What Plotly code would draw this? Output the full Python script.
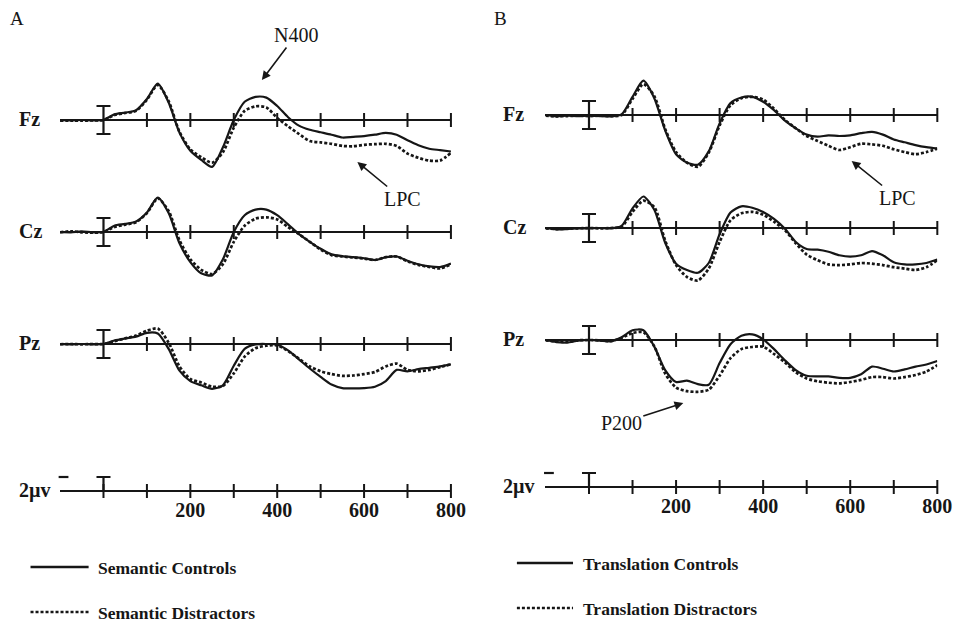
import plotly.graph_objects as go

# ---------------- data (µV, negative plotted up) ----------------
time_ms = [-100, -75, -50, -25, 0, 25, 50, 75, 100, 125, 150, 175, 200, 225, 250, 275, 300,
           325, 350, 375, 400, 425, 450, 475, 500, 525, 550, 575, 600, 625, 650, 675, 700,
           725, 750, 775, 800]

a_fz_controls = [0, 0.05, 0, 0.05, 0, -0.8, -1.05, -1.4, -3.0, -5.2, -2.5, 1.8, 4.4, 5.7, 6.7, 3.9, 0,
                 -2.6, -3.3, -3.2, -2.0, -0.4, 0.8, 1.4, 1.75, 2.1, 2.5, 2.4, 2.3, 2.1, 1.85, 2.1, 2.9,
                 3.6, 4.1, 4.3, 4.5]
a_fz_distractors = [0.1, 0.1, 0.1, 0.05, 0, -0.7, -1.0, -1.3, -2.9, -5.0, -2.7, 1.7, 4.2, 5.3, 6.1, 4.6, 1.1,
                    -1.3, -1.95, -1.8, -0.3, 0.9, 2.0, 3.0, 3.2, 3.4, 3.7, 3.75, 3.55, 3.45, 3.4, 3.7, 4.8,
                    5.4, 5.8, 5.8, 4.7]
a_cz_controls = [0, 0.05, -0.1, 0.05, 0, -0.9, -1.15, -1.5, -2.8, -4.9, -2.7, 1.6, 4.3, 5.9, 6.2, 3.9, 0,
                 -2.4, -3.2, -3.2, -2.4, -1.1, 0.3, 1.4, 2.4, 3.2, 3.45, 3.6, 3.75, 4.0, 3.6, 3.5, 4.1,
                 4.6, 4.9, 5.0, 4.5]
a_cz_distractors = [0.05, -0.1, 0.05, 0.1, 0, -0.7, -1.05, -1.4, -2.7, -4.8, -3.0, 1.2, 3.9, 5.4, 6.0, 4.6, 1.4,
                    -0.9, -1.9, -2.1, -1.8, -0.7, 0.3, 1.4, 2.5, 3.3, 3.5, 3.65, 3.8, 4.0, 3.6, 3.5, 4.2,
                    4.7, 5.0, 5.2, 4.6]
a_pz_controls = [0, 0.05, 0, 0.05, 0, -0.5, -0.8, -1.05, -1.6, -1.5, 0.7, 3.8, 5.3, 5.9, 6.4, 5.9, 3.1,
                 0.7, 0.05, 0, 0.1, 0.9, 2.2, 3.5, 4.7, 5.8, 6.3, 6.35, 6.3, 6.1, 5.3, 3.7, 3.9,
                 3.6, 3.4, 3.2, 2.9]
a_pz_distractors = [0.05, 0, 0.05, 0, 0, -0.4, -0.8, -1.2, -1.9, -2.2, -0.2, 3.2, 5.0, 5.5, 6.1, 6.0, 4.2,
                    1.8, 0.6, 0.25, 0.2, 1.0, 2.1, 3.2, 3.9, 4.3, 4.55, 4.5, 4.3, 4.0, 3.2, 2.8, 3.7,
                    3.9, 3.7, 3.3, 2.9]

b_fz_controls = [0, 0.2, 0.1, 0.15, 0.1, 0.15, 0.2, -0.1, -2.6, -4.9, -2.4, 2.2, 5.6, 6.8, 7.1, 5.2, 1.2,
                 -1.7, -2.5, -2.6, -1.9, -0.7, 0.8, 1.9, 2.8, 3.1, 2.9, 3.0, 2.9, 2.6, 2.4, 2.8, 3.5,
                 3.9, 4.3, 4.6, 4.8]
b_fz_distractors = [0.1, 0.2, 0.15, 0.1, 0.15, 0.1, 0.15, 0, -2.3, -4.4, -2.7, 2.0, 5.3, 6.8, 7.4, 5.4, 1.5,
                    -1.4, -2.4, -2.6, -2.2, -0.9, 0.7, 1.9, 3.0, 3.7, 4.4, 5.0, 4.6, 4.1, 4.2, 4.4, 4.9,
                    5.3, 5.6, 5.3, 4.8]
b_cz_controls = [0, 0.2, 0.15, 0.05, 0.05, 0, 0.05, -0.3, -2.8, -4.5, -2.6, 2.1, 5.1, 6.0, 6.4, 5.0, 0.9,
                 -2.2, -3.1, -2.9, -2.3, -1.3, 0.1, 2.0, 3.0, 3.1, 3.4, 3.9, 4.1, 3.9, 3.3, 3.9, 4.9,
                 5.2, 5.2, 5.0, 4.5]
b_cz_distractors = [0.05, 0.15, 0.1, 0.05, 0, 0.05, 0, -0.2, -2.3, -3.9, -3.0, 1.8, 5.3, 7.0, 7.5, 5.8, 2.0,
                    -1.1, -2.1, -2.3, -1.9, -0.9, 0.3, 2.2, 3.8, 4.6, 5.2, 5.3, 5.2, 5.0, 5.1, 5.3, 5.6,
                    5.8, 6.0, 5.6, 4.6]
b_pz_controls = [0, 0.3, 0.35, 0.1, 0, 0.1, 0.2, -0.4, -1.4, -1.4, 0.95, 4.3, 6.0, 5.8, 6.3, 6.4, 3.3,
                 0.6, -0.6, -0.8, -0.1, 1.3, 2.9, 4.3, 5.1, 5.2, 5.2, 5.4, 5.4, 4.9, 3.8, 4.1, 4.5,
                 4.2, 3.8, 3.5, 3.0]
b_pz_distractors = [0.05, 0.2, 0.3, 0.05, 0, 0.05, 0.15, -0.3, -1.0, -1.1, 0.9, 4.8, 6.8, 7.3, 7.4, 7.1, 5.1,
                    2.6, 1.3, 1.0, 0.95, 2.0, 3.2, 4.6, 5.5, 5.9, 6.1, 6.2, 6.0, 5.7, 5.3, 5.3, 5.5,
                    5.3, 5.0, 4.5, 3.6]

electrodes = ["Fz", "Cz", "Pz"]
baseline_tick_ms = [100, 200, 300, 400, 500, 600, 700, 800]
scale_tick_ms = [0, 100, 200, 300, 400, 500, 600, 700, 800]
axis_label_ms = [200, 400, 600, 800]
calibration_uv = 2
scale_label = "2µv"
legend_a = ["Semantic Controls", "Semantic Distractors"]
legend_b = ["Translation Controls", "Translation Distractors"]

# ---------------- styling / layout ----------------
W, H = 972, 627
INK = "#161616"
SERIF = "Liberation Serif, Times New Roman, serif"
PX_PER_UV = 7.0
ROW_H = 110
HALF_UV = ROW_H / 2 / PX_PER_UV

panels = [
    dict(label="A", x0=61, x1=458, baselines=[120, 232, 344, 491],
         series=[(a_fz_controls, a_fz_distractors), (a_cz_controls, a_cz_distractors),
                 (a_pz_controls, a_pz_distractors)],
         legend=legend_a, name_x=17, legend_line=(31, 90), legend_text_x=98, legend_y=(567, 612),
         label_xy=(8, 18)),
    dict(label="B", x0=554, x1=952, baselines=[115, 228, 340, 487],
         series=[(b_fz_controls, b_fz_distractors), (b_cz_controls, b_cz_distractors),
                 (b_pz_controls, b_pz_distractors)],
         legend=legend_b, name_x=509, legend_line=(525, 582), legend_text_x=590, legend_y=(563, 608),
         label_xy=(500, 18)),
]


def px(x):
    return x / W


def py(y):
    return 1 - y / H


fig = go.Figure()
annotations = []
shapes = []

for p, panel in enumerate(panels):
    for r, base in enumerate(panel["baselines"]):
        k = p * 4 + r + 1
        sfx = "" if k == 1 else str(k)
        xa, ya = "x" + sfx, "y" + sfx
        xaxis = dict(domain=[px(panel["x0"]), px(panel["x1"])], range=[time_ms[0], time_ms[-1]],
                     anchor=ya, showgrid=False, zeroline=False, showline=False,
                     showticklabels=False, ticks="", fixedrange=True)
        yaxis = dict(domain=[py(base + ROW_H / 2), py(base - ROW_H / 2)], range=[HALF_UV, -HALF_UV],
                     anchor=xa, showgrid=False, zeroline=True, zerolinecolor=INK, zerolinewidth=2.2,
                     showticklabels=False, ticks="", showline=False, fixedrange=True)
        if r == 3:
            xaxis.update(showticklabels=True, tickmode="array", tickvals=axis_label_ms,
                         ticktext=[str(v) for v in axis_label_ms], ticks="outside", ticklen=1,
                         tickcolor="rgba(0,0,0,0)", anchor="free", position=py(base),
                         tickfont=dict(family=SERIF, size=20, color=INK, weight="bold"))
        fig.update_layout(**{"xaxis" + sfx: xaxis, "yaxis" + sfx: yaxis})

        if r < 3:
            ctrl, dist = panel["series"][r]
            fig.add_trace(go.Scatter(x=time_ms, y=dist, mode="lines", xaxis=xa, yaxis=ya,
                                     line=dict(color=INK, width=2.7, dash="3px,2px", shape="spline",
                                               smoothing=0.7), hoverinfo="skip"))
            fig.add_trace(go.Scatter(x=time_ms, y=ctrl, mode="lines", xaxis=xa, yaxis=ya,
                                     line=dict(color=INK, width=2.2, shape="spline", smoothing=0.7),
                                     hoverinfo="skip"))
            fig.add_trace(go.Scatter(x=baseline_tick_ms, y=[0] * len(baseline_tick_ms), mode="markers",
                                     xaxis=xa, yaxis=ya, cliponaxis=False, hoverinfo="skip",
                                     marker=dict(symbol="line-ns", size=10,
                                                 line=dict(width=2, color=INK))))
            # calibration I-bar at stimulus onset
            fig.add_trace(go.Scatter(x=[0], y=[0], mode="markers", xaxis=xa, yaxis=ya,
                                     cliponaxis=False, hoverinfo="skip",
                                     marker=dict(size=2, color=INK),
                                     error_y=dict(type="data", array=[calibration_uv], visible=True,
                                                  thickness=2.2, width=7, color=INK)))
            name = electrodes[r]
        else:
            fig.add_trace(go.Scatter(x=scale_tick_ms, y=[0] * len(scale_tick_ms), mode="markers",
                                     xaxis=xa, yaxis=ya, cliponaxis=False, hoverinfo="skip",
                                     marker=dict(symbol="line-ns", size=10,
                                                 line=dict(width=2, color=INK))))
            fig.add_trace(go.Scatter(x=[0], y=[0], mode="markers", xaxis=xa, yaxis=ya,
                                     cliponaxis=False, hoverinfo="skip",
                                     marker=dict(size=2, color=INK),
                                     error_y=dict(type="data", symmetric=False, array=[0],
                                                  arrayminus=[calibration_uv], visible=True,
                                                  thickness=2.2, width=7, color=INK)))
            fig.add_trace(go.Scatter(x=[time_ms[0] + 8], y=[-calibration_uv], mode="markers",
                                     xaxis=xa, yaxis=ya, cliponaxis=False, hoverinfo="skip",
                                     marker=dict(symbol="line-ew", size=7,
                                                 line=dict(width=2.2, color=INK))))
            name = scale_label
        annotations.append(dict(x=px(panel["name_x"]), y=py(base - 1), xref="paper", yref="paper",
                                text=name, showarrow=False, xanchor="left", yanchor="middle",
                                font=dict(family=SERIF, size=20, color=INK, weight="bold")))

    # panel letter
    lx, ly = panel["label_xy"]
    annotations.append(dict(x=px(lx), y=py(ly), xref="paper", yref="paper", text=panel["label"],
                            showarrow=False, xanchor="left", yanchor="middle",
                            font=dict(family=SERIF, size=19, color=INK)))
    # legend
    l0, l1 = panel["legend_line"]
    for j, (txt, ly2) in enumerate(zip(panel["legend"], panel["legend_y"])):
        shapes.append(dict(type="line", xref="paper", yref="paper", x0=px(l0), x1=px(l1),
                           y0=py(ly2), y1=py(ly2),
                           line=dict(color=INK, width=2.7 if j else 2.5,
                                     dash="3px,2px" if j else "solid")))
        annotations.append(dict(x=px(panel["legend_text_x"]), y=py(ly2 + 1), xref="paper", yref="paper",
                                text=txt, showarrow=False, xanchor="left", yanchor="middle",
                                font=dict(family=SERIF, size=17.5, color=INK, weight="bold")))

# component annotations with arrows (head position in paper px, text offset in px)
callouts = [
    ("N400", (266, 80), (34, -45)),
    ("LPC", (363, 162), (45, 37)),
    ("LPC", (865, 161), (46, 37)),
    ("P200", (694, 403), (-62, 20)),
]
for txt, (hx, hy), (ax, ay) in callouts:
    annotations.append(dict(x=px(hx), y=py(hy), xref="paper", yref="paper", text=txt,
                            showarrow=True, ax=ax, ay=ay, arrowhead=2, arrowsize=1.1,
                            arrowwidth=1.6, arrowcolor=INK, standoff=0,
                            font=dict(family=SERIF, size=20, color=INK)))

fig.update_layout(width=W, height=H, margin=dict(l=0, r=0, t=0, b=0),
                  paper_bgcolor="white", plot_bgcolor="white", showlegend=False,
                  annotations=annotations, shapes=shapes)

fig.write_html("out.html")
